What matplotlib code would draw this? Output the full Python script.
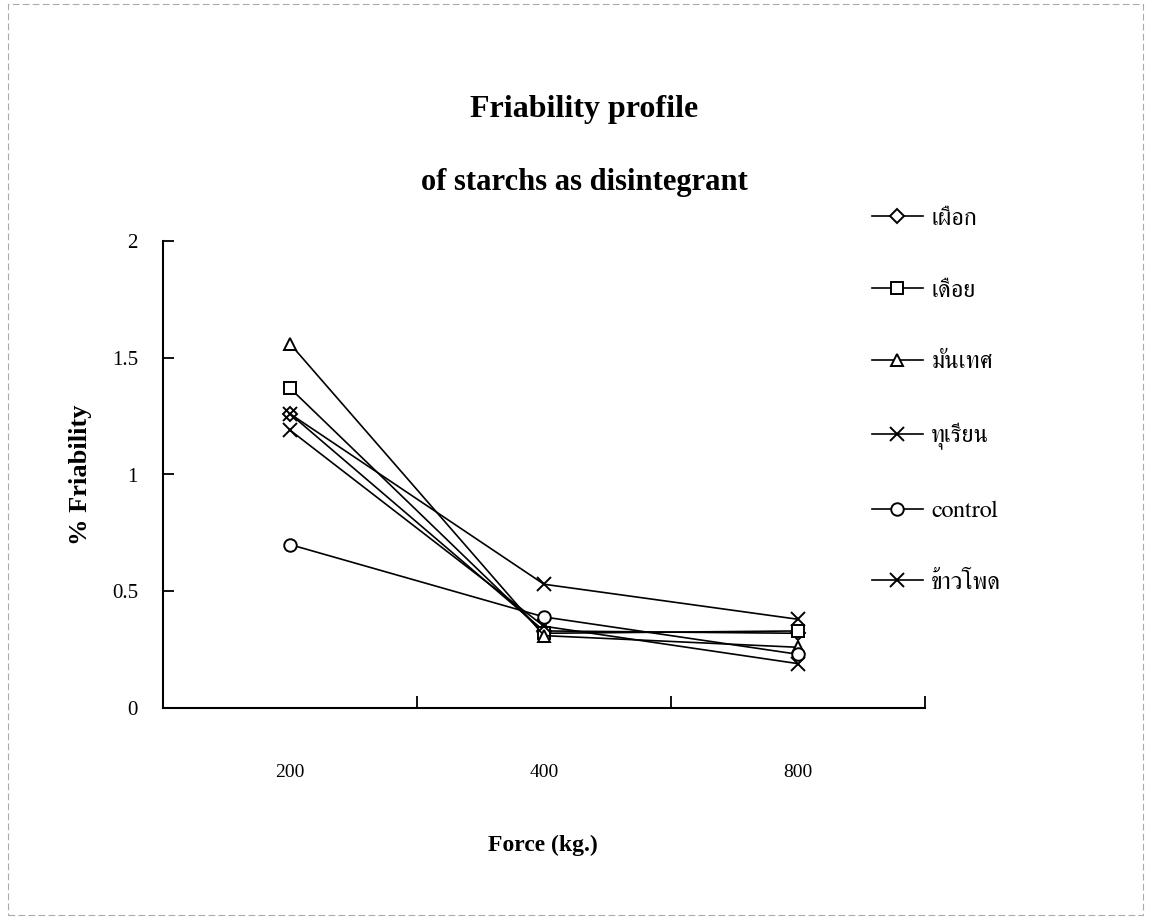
import matplotlib
matplotlib.use("Agg")
import matplotlib.pyplot as plt
from matplotlib import font_manager
from matplotlib.patches import Rectangle

# ---- data ----
categories = ["200", "400", "800"]
series_names = ["เผือก", "เดือย", "มันเทศ", "ทุเรียน", "control", "ข้าวโพด"]
phueak = [1.26, 0.33, 0.32]
duea = [1.37, 0.32, 0.33]
manthet = [1.56, 0.31, 0.26]
thurian = [1.19, 0.35, 0.19]
control = [0.70, 0.39, 0.23]
khaophot = [1.26, 0.53, 0.38]
y_ticks = [0, 0.5, 1, 1.5, 2]
y_tick_labels = ["0", "0.5", "1", "1.5", "2"]

# ---- fonts ----
def find_thai_font():
    try:
        from fontTools.ttLib import TTFont
    except Exception:
        return None
    cands = []
    for f in font_manager.fontManager.ttflist:
        try:
            tt = TTFont(f.fname, fontNumber=0, lazy=True)
            cmap = tt.getBestCmap()
            if cmap and 0x0E1C in cmap and 0x0E40 in cmap:
                cands.append(f)
        except Exception:
            pass
    if not cands:
        return None
    cands.sort(key=lambda f: (0 if "serif" in f.name.lower() else 1, f.name))
    return cands[0].name

thai = find_thai_font()
serif = "Liberation Serif"
fam = [serif] + ([thai] if thai else [])
thai_fam = ([thai] if thai else []) + [serif]

plt.rcParams["font.family"] = fam

W, H = 1152, 922
fig = plt.figure(figsize=(W / 100, H / 100), dpi=100)
ax = fig.add_axes([163 / W, 1 - 708 / H, (925 - 163) / W, (708 - 241) / H])

x = list(range(len(categories)))
data = [phueak, duea, manthet, thurian, control, khaophot]
markers = ["D", "s", "^", "x", "o", "x"]
msizes = [7, 9, 9, 10, 9, 10]
for name, vals, m, ms in zip(series_names, data, markers, msizes):
    ax.plot(x, vals, color="black", lw=1.2, marker=m, markersize=ms,
            markerfacecolor="white", markeredgecolor="black",
            markeredgewidth=1.4, label=name)

ax.set_xlim(-0.5, 2.5)
ax.set_ylim(0, 2)
ax.spines["top"].set_visible(False)
ax.spines["right"].set_visible(False)
for s in ("left", "bottom"):
    ax.spines[s].set_linewidth(1.5)

ax.set_yticks(y_ticks)
ax.set_yticklabels(y_tick_labels, fontsize=15, family=serif)
ax.tick_params(axis="y", direction="in", length=8, width=1.3, pad=18)

ax.set_xticks([0.5, 1.5, 2.5])
ax.set_xticklabels([])
ax.set_xticks(x, minor=True)
ax.set_xticklabels(categories, minor=True, fontsize=14, family=serif)
ax.tick_params(axis="x", which="major", direction="in", length=9, width=1.3)
ax.tick_params(axis="x", which="minor", length=0, pad=40)

fig.text(543 / W, 1 - 845 / H, "Force (kg.)", ha="center", va="center",
         fontsize=17, fontweight="bold", family=serif)
fig.text(81 / W, 1 - 475 / H, "% Friability", ha="center", va="center", rotation=90,
         fontsize=19, fontweight="bold", family=serif)

fig.text(584 / W, 1 - 117 / H, "Friability profile", ha="center", va="baseline",
         fontsize=23, fontweight="bold", family=serif)
fig.text(584 / W, 1 - 190 / H, "of starchs as disintegrant", ha="center", va="baseline",
         fontsize=22, fontweight="bold", family=serif)

leg = ax.legend(loc="upper left", bbox_to_anchor=(862 / W, 1 - 198 / H),
                bbox_transform=fig.transFigure, frameon=False,
                prop={"family": thai_fam, "size": 17.5}, labelspacing=2.05,
                handlelength=2.1, handletextpad=0.35, borderaxespad=0)

fig.patches.append(Rectangle((8 / W, 1 - 915 / H), (1143 - 8) / W, (915 - 4) / H,
                             transform=fig.transFigure, fill=False, lw=0.8,
                             edgecolor="#aaaaaa", linestyle=(0, (6, 3))))

fig.savefig("out.png", dpi=100, facecolor="white")
